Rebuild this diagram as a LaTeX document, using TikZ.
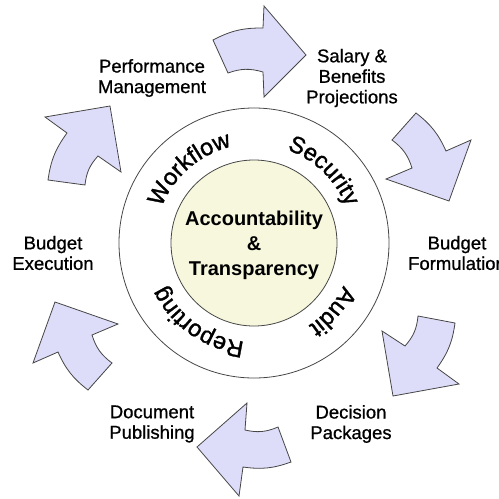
\documentclass[tikz,border=0pt]{standalone}
\usepackage{fontspec}
\setmainfont{Liberation Sans}
\newfontfamily\ringfont[FakeBold=1.4]{Liberation Sans}
\newfontfamily\labelfont[FakeBold=0.8]{Liberation Sans}
\usetikzlibrary{decorations.text}
\definecolor{arrowfill}{RGB}{221,221,250}
\definecolor{linegray}{RGB}{70,70,70}
\definecolor{corefill}{RGB}{247,247,222}
\begin{document}
\begin{tikzpicture}[x=1pt,y=-1pt,
  cyclearrow/.style={draw=linegray, fill=arrowfill, line width=0.8pt, line join=miter},
  lbl/.style={font=\labelfont\fontsize{18.5}{20.5}\selectfont, align=center, inner sep=0pt},
  ringtext/.style={decorate, decoration={text along path, text align=center,
      text={|\ringfont\fontsize{23.5}{26}\selectfont|#1}}}]
\useasboundingbox (0,0) rectangle (499,499);

\coordinate (c) at (254,243);
\node[circle, draw=linegray, line width=0.8pt, minimum size=270pt, inner sep=0pt] (outer) at (c) {};
\node[circle, draw=linegray, line width=0.8pt, fill=corefill, minimum size=166pt, inner sep=0pt] (core) at (c) {};
\node[font=\bfseries\fontsize{20}{25}\selectfont, align=center, inner sep=0pt] (centre) at (254,245) {Accountability\\\&\\Transparency};

% ring words
\path[ringtext=Workflow] (c) ++(171:99pt) arc[start angle=171, end angle=91, radius=99pt];
\path[ringtext=Security] (c) ++(86:99pt) arc[start angle=86, end angle=6, radius=99pt];
\path[ringtext=Audit] (c) ++(-1:99pt) arc[start angle=-1, end angle=-81, radius=99pt];
\path[ringtext=Reporting] (c) ++(-85:99pt) arc[start angle=-85, end angle=-165, radius=99pt];

% arrows
\draw[cyclearrow] (263,72) to[bend right=18] (228,73) -- (213,40) to[bend left=14] (263,28) -- (264,6) -- (306,55) -- (264,97) -- cycle;
\draw[cyclearrow] (412,168) to[bend right=18] (392,140) -- (416,113) to[bend left=14] (446,151) -- (471,140) -- (449,201) -- (386,179) -- cycle;
\draw[cyclearrow] (405,346) to[bend right=18] (418,316) -- (455,323) to[bend left=14] (437,368) -- (459,384) -- (393,396) -- (382,331) -- cycle;
\draw[cyclearrow] (245,430) to[bend right=18] (278,427) -- (291,462) to[bend left=14] (243,467) -- (239,496) -- (197,447) -- (247,403) -- cycle;
\draw[cyclearrow] (92,335) to[bend right=18] (112,363) -- (88,390) to[bend left=14] (58,352) -- (33,363) -- (55,302) -- (118,324) -- cycle;
\draw[cyclearrow] (98,156) to[bend right=18] (85,185) -- (48,180) to[bend left=14] (67,133) -- (45,117) -- (110,106) -- (121,172) -- cycle;

% labels
\node[lbl] (perf) at (152,78) {Performance\\Management};
\node[lbl] (salary) at (352,78) {Salary \&\\Benefits\\Projections};
\node[lbl] (bform) at (457,253) {Budget\\Formulation};
\node[lbl] (bexec) at (53,253) {Budget\\Execution};
\node[lbl] (docpub) at (152,424) {Document\\Publishing};
\node[lbl] (decis) at (351,424) {Decision\\Packages};
\end{tikzpicture}
\end{document}
